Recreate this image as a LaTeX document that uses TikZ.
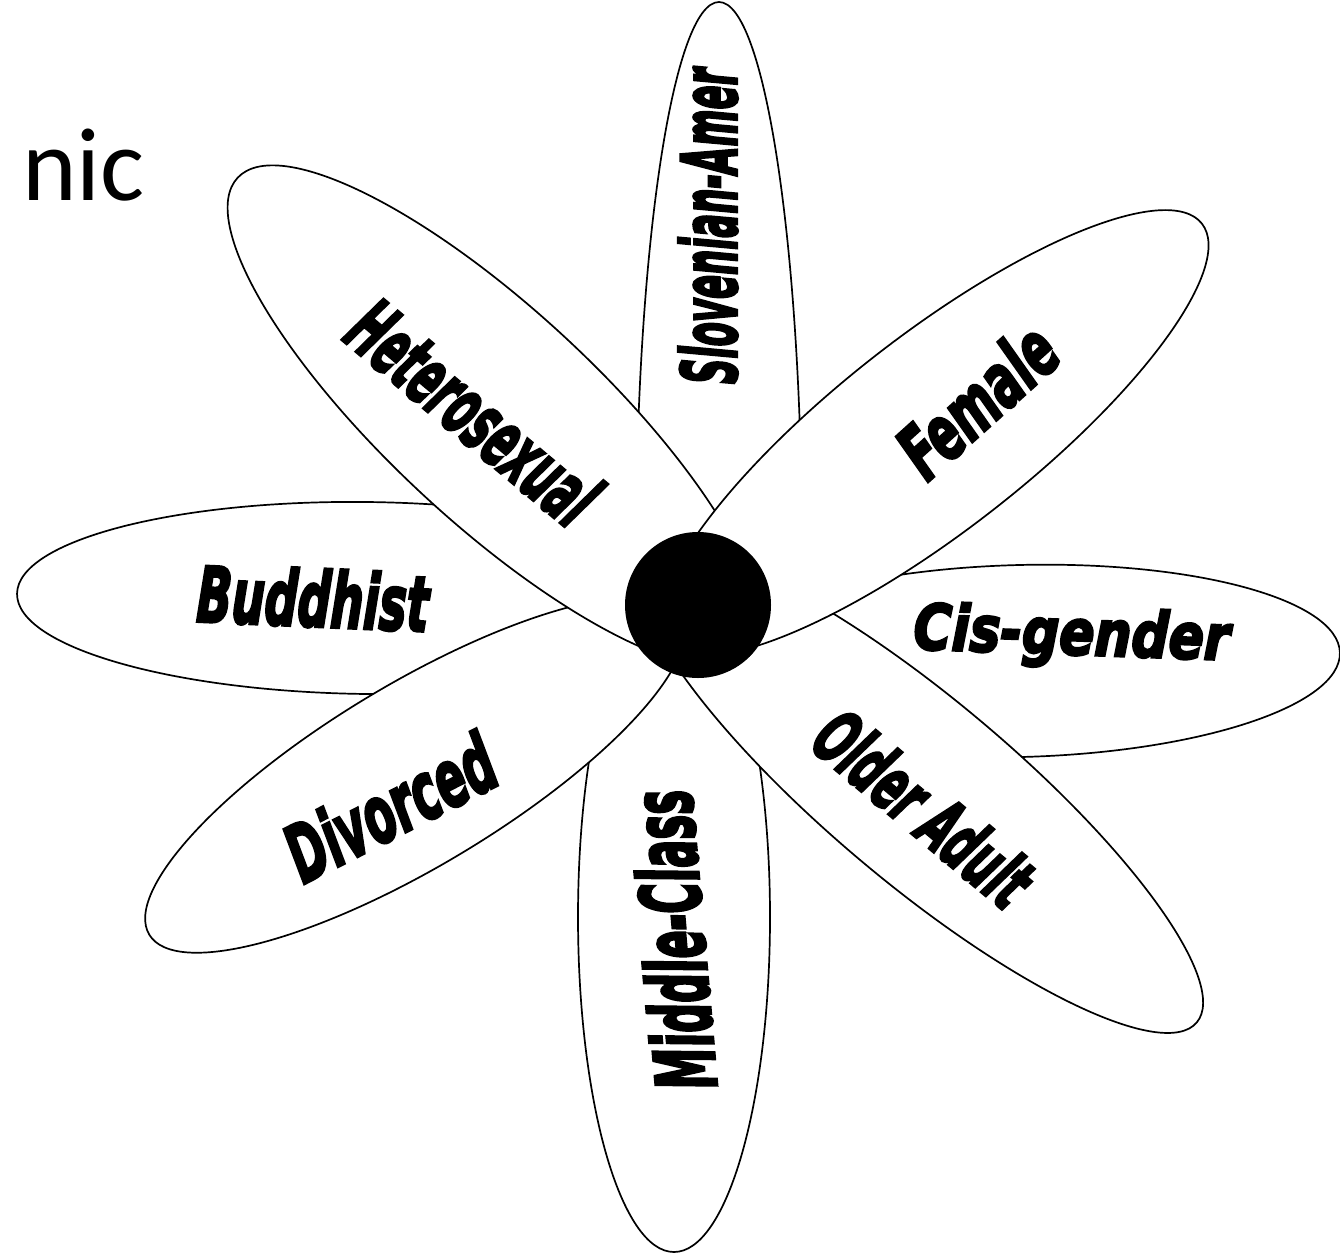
\documentclass[tikz,border=0pt]{standalone}
\usepackage{fontspec}
\usepackage{graphicx}
\newfontfamily\petalfont{DejaVu Sans}[FakeBold=4]
\newfontfamily\slidefont{Carlito}
\tikzset{
  petal/.style={draw=black, fill=white, line width=1.7pt},
  lbl/.style={inner sep=0pt, outer sep=0pt},
}
\newcommand{\ptext}[3]{\resizebox{#1pt}{#2pt}{\petalfont\bfseries\itshape #3}}
\begin{document}
\begin{tikzpicture}[x=1pt,y=-1pt]
\path[use as bounding box] (0,0) rectangle (1340,1253);
\node[anchor=base west, inner sep=0pt, font=\slidefont\fontsize{104}{104}\selectfont] (nic) at (22,200) {nic};

\begin{scope}
\clip (0,0) rectangle (1340,605);
\draw[petal] (719,552) ellipse [x radius=83, y radius=550];
\end{scope}
\node[lbl, rotate=90] (slov) at (708,226) {\ptext{316}{58}{Slovenian-Amer}};

\draw[petal, rotate around={-0.7:(367,598)}] (367,598) ellipse [x radius=350, y radius=96];
\node[lbl, rotate=-2.5] (bud) at (313,598) {\ptext{232}{58}{Buddhist}};

\draw[petal, rotate around={1.5:(1020,661)}] (1020,661) ellipse [x radius=320, y radius=96];
\node[lbl, rotate=-2, anchor=base west] (cis) at (913,649) {\ptext{316}{48}{Cis-gender}};

\draw[petal] (674,917) ellipse [x radius=96, y radius=335];
\node[lbl, rotate=95] (mid) at (673,940) {\ptext{300}{63}{Middle-Class}};

\draw[petal, rotate around={31:(415,775)}] (415,775) ellipse [x radius=310, y radius=91];
\node[lbl, rotate=27] (div) at (390,807) {\ptext{225}{60}{Divorced}};

\draw[petal, rotate around={-40:(921,791)}] (921,791) ellipse [x radius=360, y radius=92];
\node[lbl, rotate=-40] (old) at (924,808) {\ptext{258}{56}{Older Adult}};

\draw[petal, rotate around={137.1:(494,416)}] (494,416) ellipse [x radius=350, y radius=106];
\node[lbl, rotate=-40] (het) at (474,412) {\ptext{298}{60}{Heterosexual}};

\draw[petal, rotate around={38:(934,433)}] (934,433) ellipse [x radius=340, y radius=97];
\node[lbl, rotate=42] (fem) at (977,400) {\ptext{185}{57}{Female}};

\fill (698,605) circle [radius=73];
\end{tikzpicture}
\end{document}
